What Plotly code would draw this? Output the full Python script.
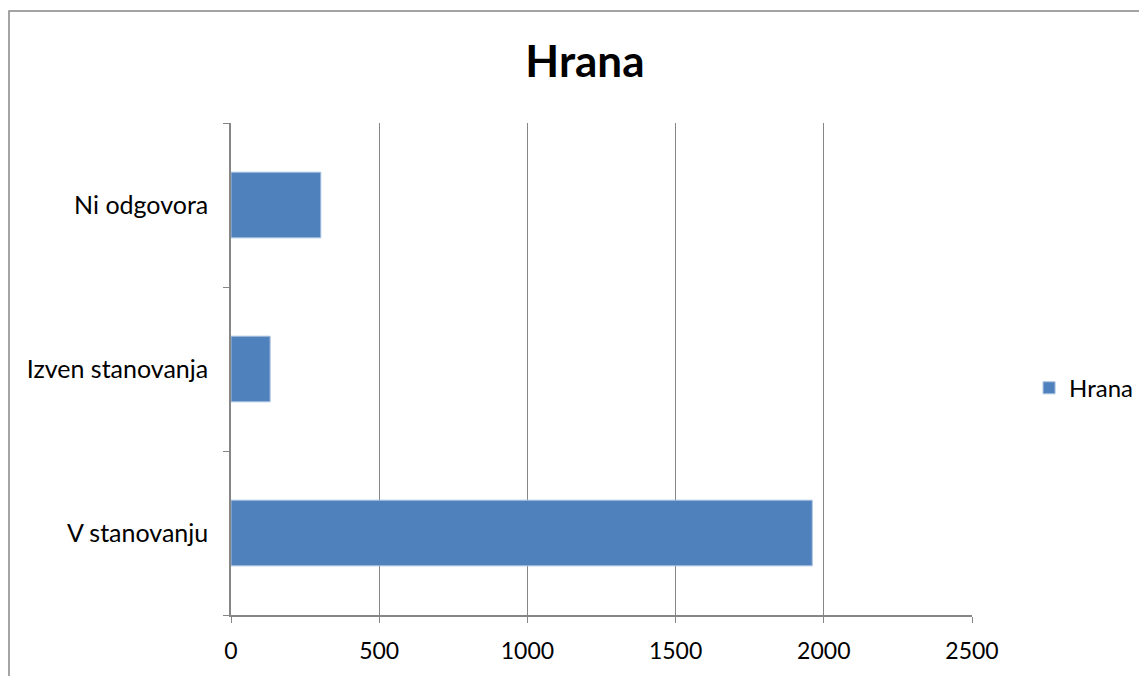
import plotly.graph_objects as go

categories = ["V stanovanju", "Izven stanovanja", "Ni odgovora"]
values = [1961, 132, 303]
x_ticks = [0, 500, 1000, 1500, 2000, 2500]
series_name = "Hrana"
title_text = "Hrana"

FONT = "Lato, 'Open Sans', sans-serif"
GRAY = "#868686"

fig = go.Figure()
fig.add_trace(go.Bar(
    y=categories, x=values, orientation="h", name=series_name,
    marker=dict(color="#4F81BD", line=dict(color="#A7BFDE", width=1)),
    showlegend=True,
))

fig.update_layout(
    width=1147, height=676,
    margin=dict(l=223, r=183, t=115, b=69),
    paper_bgcolor="white", plot_bgcolor="white",
    bargap=0.6,
    title=dict(text="<b>" + title_text + "</b>", x=0.503, xanchor="center",
               y=0.92, yanchor="middle",
               font=dict(family=FONT, size=44, color="black")),
    font=dict(family=FONT, size=24, color="black"),
    legend=dict(x=1.077, xanchor="left", y=0.461, yanchor="middle",
                font=dict(family=FONT, size=24, color="black"),
                itemwidth=30),
    xaxis=dict(range=[0, 2500], tickvals=x_ticks, showgrid=True,
               gridcolor=GRAY, gridwidth=1.3, zeroline=False,
               showline=True, linecolor=GRAY, linewidth=1.5,
               ticks="outside", ticklen=6, tickcolor=GRAY, tickwidth=1.3,
               ticklabelstandoff=9,
               tickfont=dict(family=FONT, size=23, color="black")),
    yaxis=dict(showline=True, linecolor=GRAY, linewidth=1.5,
               ticks="outside", ticklen=6, tickcolor=GRAY, tickwidth=1.3,
               tickson="boundaries", showgrid=False,
               ticklabelstandoff=16,
               tickfont=dict(family=FONT, size=25, color="black")),
    shapes=[dict(type="rect", xref="paper", yref="paper",
                 x0=(9 - 231) / 741, x1=(1170 - 231) / 741,
                 y0=(615 - 710) / 492, y1=(615 - 11) / 492,
                 line=dict(color=GRAY, width=1.5), fillcolor="rgba(0,0,0,0)",
                 layer="below")],
)

fig.write_html("out.html")
